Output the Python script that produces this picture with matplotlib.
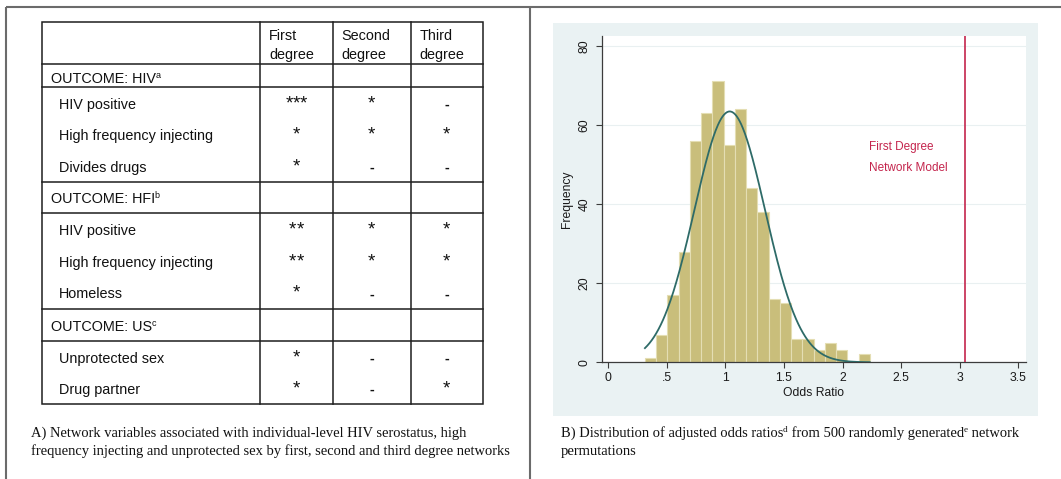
import numpy as np
import matplotlib
matplotlib.use("Agg")
import matplotlib.pyplot as plt
from matplotlib.patches import Rectangle

# ---------------- data ----------------
col_headers = [["First", "degree"], ["Second", "degree"], ["Third", "degree"]]
section_titles = ["OUTCOME: HIV", "OUTCOME: HFI", "OUTCOME: US"]
section_sups = ["a", "b", "c"]
hiv_vars = ["HIV positive", "High frequency injecting", "Divides drugs"]
hiv_sig = [["***", "*", "-"], ["*", "*", "*"], ["*", "-", "-"]]
hfi_vars = ["HIV positive", "High frequency injecting", "Homeless"]
hfi_sig = [["**", "*", "*"], ["**", "*", "*"], ["*", "-", "-"]]
us_vars = ["Unprotected sex", "Drug partner"]
us_sig = [["*", "-", "-"], ["*", "-", "*"]]

# histogram of 500 permuted odds ratios (20 equal bins between min and max)
or_min, or_max = 0.313, 2.233
freq = [1, 7, 17, 28, 56, 63, 71, 55, 64, 44, 38, 16, 15, 6, 6, 3, 5, 3, 0, 2]
n_perm = 500
fit_mean, fit_sd = 1.037, 0.302
observed_or = 3.046
xtick_vals = [0, 0.5, 1, 1.5, 2, 2.5, 3, 3.5]
xtick_labels = ["0", ".5", "1", "1.5", "2", "2.5", "3", "3.5"]
ytick_vals = [0, 20, 40, 60, 80]

caption_a = ["A) Network variables associated with individual-level HIV serostatus, high",
             "frequency injecting and unprotected sex by first, second and third degree networks"]

# ---------------- figure ----------------
W, H = 1061, 479
fig = plt.figure(figsize=(W / 100, H / 100), dpi=100)
bg = fig.add_axes([0, 0, 1, 1], zorder=0)
bg.set_xlim(0, W)
bg.set_ylim(H, 0)
bg.axis("off")
renderer = fig.canvas.get_renderer()

SANS = ["Liberation Sans", "DejaVu Sans"]
SERIF = ["Liberation Serif", "DejaVu Serif"]

# panel borders
bcol = "#6b6b6b"
bg.plot([6, W], [6.8, 6.8], color=bcol, lw=1.5, solid_capstyle="butt")
bg.plot([6, 6], [6.8, H], color=bcol, lw=1.5, solid_capstyle="butt")
bg.plot([530, 530], [6.8, H], color=bcol, lw=1.5, solid_capstyle="butt")


def runs(x, y, parts, family, size):
    """draw consecutive text runs; parts = (text, size_factor, dy)"""
    for txt, fac, dy in parts:
        t = bg.text(x, y + dy, txt, family=family, fontsize=size * fac,
                    ha="left", va="baseline", color="#111111")
        bb = t.get_window_extent(renderer)
        x += bb.width


# ---------------- table ----------------
tl, tr, tt, tb = 41.7, 483.0, 22.3, 404.3
vcols = [259.7, 333.0, 410.7]
hlines = [64.0, 87.3, 181.7, 212.7, 309.0, 340.7]
lc = "#1e1e1e"
lw = 1.1
bg.add_patch(Rectangle((tl, tt), tr - tl, tb - tt, fill=False, ec=lc, lw=lw))
for xv in vcols:
    bg.plot([xv, xv], [tt, tb], color=lc, lw=lw)
for yh in hlines:
    bg.plot([tl, tr], [yh, yh], color=lc, lw=lw)

fs = 10.4
head_x = [269.0, 341.7, 419.3]
for hx, (l1, l2) in zip(head_x, col_headers):
    bg.text(hx, 40.0, l1, family=SANS, fontsize=fs, va="baseline", color="#111111")
    bg.text(hx, 58.5, l2, family=SANS, fontsize=fs, va="baseline", color="#111111")

col_centers = [296.3, 371.8, 446.8]
section_base = [82.7, 202.7, 330.7]
var_groups = [hiv_vars, hfi_vars, us_vars]
sig_groups = [hiv_sig, hfi_sig, us_sig]
row_bases = [[109.0, 140.3, 171.7], [235.0, 267.0, 298.3], [362.7, 394.0]]

for title, sup, sb in zip(section_titles, section_sups, section_base):
    runs(50.7, sb, [(title, 1.0, 0), (sup, 0.62, -4.5)], SANS, fs)

for vars_, sigs, bases in zip(var_groups, sig_groups, row_bases):
    for name, sig, yb in zip(vars_, sigs, bases):
        bg.text(59.3, yb, name, family=SANS, fontsize=fs, va="baseline", color="#111111")
        for cx, s in zip(col_centers, sig):
            if s == "-":
                bg.text(cx, yb, "-", family=SANS, fontsize=fs, fontweight="bold",
                        ha="center", va="baseline", color="#111111")
            else:
                n = len(s)
                for i in range(n):
                    xs = cx + 7.4 * (i - (n - 1) / 2)
                    bg.text(xs, yb - 0.5, "*", family=SANS, fontsize=13.5,
                            ha="center", va="baseline", color="#111111")

# caption A
cfs = 10.45
bg.text(31.0, 437.0, caption_a[0], family=SERIF, fontsize=cfs, va="baseline", color="#111111")
bg.text(31.0, 455.0, caption_a[1], family=SERIF, fontsize=cfs, va="baseline", color="#111111")

# caption B
runs(560.7, 437.0, [("B) Distribution of adjusted odds ratios", 1.0, 0), ("d", 0.62, -4.5),
                    (" from 500 randomly generated", 1.0, 0), ("e", 0.62, -4.5),
                    (" network", 1.0, 0)], SERIF, cfs)
bg.text(560.7, 455.0, "permutations", family=SERIF, fontsize=cfs, va="baseline", color="#111111")

# ---------------- histogram panel ----------------
bg.add_patch(Rectangle((552.7, 23.3), 1038.0 - 552.7, 415.7 - 23.3, fc="#eaf2f3", ec="none"))

ax_l, ax_r, ax_t, ax_b = 601.7, 1025.7, 36.3, 362.3
ax = fig.add_axes([ax_l / W, 1 - ax_b / H, (ax_r - ax_l) / W, (ax_b - ax_t) / H], zorder=2)
ax.set_facecolor("white")

edges = np.linspace(or_min, or_max, len(freq) + 1)
centers = (edges[:-1] + edges[1:]) / 2
ax.hist(centers, bins=edges, weights=freq, color="#c9be7b", edgecolor="#e4deb3",
        linewidth=0.8, zorder=2)

bw = edges[1] - edges[0]
xs = np.linspace(or_min, or_max, 300)
dens = n_perm * bw / (fit_sd * np.sqrt(2 * np.pi)) * np.exp(-0.5 * ((xs - fit_mean) / fit_sd) ** 2)
ax.plot(xs, dens, color="#2e6b68", lw=1.3, zorder=3)

ax.axvline(observed_or, color="#c4254d", lw=1.2, zorder=3)
ax.text(2.229, 54.4, "First Degree", color="#c4254d", family=SANS, fontsize=8.5, va="center")
ax.text(2.229, 49.1, "Network Model", color="#c4254d", family=SANS, fontsize=8.5, va="center")

ax.set_xlim(-0.056, 3.564)
ax.set_ylim(0, 82.4)
ax.set_xticks(xtick_vals)
ax.set_xticklabels(xtick_labels, family=SANS, fontsize=8.8)
ax.set_yticks(ytick_vals)
ax.set_yticklabels([str(v) for v in ytick_vals], family=SANS, fontsize=8.8,
                   rotation=90, va="center")
for s in ["top", "right"]:
    ax.spines[s].set_visible(False)
for s in ["left", "bottom"]:
    ax.spines[s].set_color("#3c3c3c")
    ax.spines[s].set_linewidth(0.9)
ax.tick_params(axis="both", direction="out", length=4, width=0.8, color="#3c3c3c",
               labelcolor="#1a1a1a")
ax.tick_params(axis="x", pad=3)
ax.tick_params(axis="y", pad=4)
ax.yaxis.grid(True, color="#e9f0f1", lw=0.8, zorder=0)
ax.set_axisbelow(True)

bg.text((ax_l + ax_r) / 2, 392.7, "Odds Ratio", family=SANS, fontsize=8.7,
        ha="center", va="center", color="#1a1a1a")
bg.text(567.5, (ax_t + ax_b) / 2, "Frequency", family=SANS, fontsize=8.7, rotation=90,
        ha="center", va="center", color="#1a1a1a")

fig.savefig("out.png", dpi=100)
